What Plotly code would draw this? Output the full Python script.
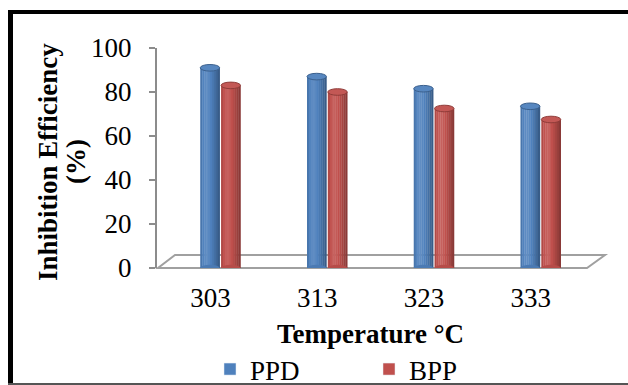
import plotly.graph_objects as go

categories = ["303", "313", "323", "333"]
ppd = [91, 87, 81.5, 73.5]
bpp = [83, 80, 72.5, 67.5]
series_names = ["PPD", "BPP"]
y_ticks = [0, 20, 40, 60, 80, 100]

FONT = "Liberation Serif"
W, H = 628, 385
L, R, T, B = 157, 44, 48, 117
PW, PH = W - L - R, H - T - B

def px(x):
    return (x - L) / PW

def py(y):
    return (H - B - y) / PH

def shade(hexcol, f):
    r, g, b = int(hexcol[1:3], 16), int(hexcol[3:5], 16), int(hexcol[5:7], 16)
    if f >= 0:
        r, g, b = [int(c + (255 - c) * f) for c in (r, g, b)]
    else:
        r, g, b = [int(c * (1 + f)) for c in (r, g, b)]
    return f"rgb({r},{g},{b})"

colors = ["#4F81BD", "#C0504D"]
offsets = [-0.095, 0.10]
width = 0.182
# lighting profile across the cylinder (left -> right)
profile = [-0.08, 0.02, 0.08, 0.10, 0.06, 0.0, -0.06, -0.13, -0.2, -0.28]

fig = go.Figure()
shapes = []
for s, vals in enumerate([ppd, bpp]):
    n = len(profile)
    sw = width / n
    for k, f in enumerate(profile):
        fig.add_trace(go.Bar(
            x=categories, y=vals, name=series_names[s],
            marker=dict(color=shade(colors[s], f), line=dict(width=0)),
            offset=offsets[s] + k * sw, width=sw * 1.15,
            showlegend=False, hoverinfo="skip",
        ))
    # legend entry
    fig.add_trace(go.Bar(
        x=[None], y=[None], name=series_names[s],
        marker=dict(color=colors[s]), showlegend=True,
    ))
    for i, v in enumerate(vals):
        shapes.append(dict(
            type="circle", xref="x", yref="y", layer="above",
            x0=i + offsets[s], x1=i + offsets[s] + width,
            y0=v - 1.5, y1=v + 1.5,
            fillcolor=shade(colors[s], 0.05),
            line=dict(color=shade(colors[s], -0.25), width=1),
        ))
        shapes.append(dict(
            type="circle", xref="x", yref="y", layer="above",
            x0=i + offsets[s], x1=i + offsets[s] + width,
            y0=-1.5, y1=1.5,
            fillcolor=shade(colors[s], -0.05),
            line=dict(width=0),
        ))

# 3D floor
shapes.insert(0, dict(
    type="path", xref="paper", yref="paper", layer="below",
    path=f"M {px(158)},{py(268)} L {px(587)},{py(268)} L {px(605)},{py(255)} L {px(175)},{py(255)} Z",
    line=dict(color="#A0A0A0", width=2), fillcolor="rgba(0,0,0,0)",
))
# outer frame
shapes += [
    dict(type="line", xref="paper", yref="paper", x0=px(8), x1=px(640), y0=py(12), y1=py(12),
         line=dict(color="black", width=4)),
    dict(type="line", xref="paper", yref="paper", x0=px(10.5), x1=px(10.5), y0=py(10), y1=py(390),
         line=dict(color="black", width=5)),
    dict(type="line", xref="paper", yref="paper", x0=px(8), x1=px(640), y0=py(384), y1=py(384),
         line=dict(color="#555555", width=2)),
]

fig.update_layout(
    width=W, height=H,
    margin=dict(l=L, r=R, t=T, b=B, autoexpand=False),
    paper_bgcolor="white", plot_bgcolor="white",
    barmode="overlay",
    font=dict(family=FONT, size=27, color="black"),
    shapes=shapes,
    showlegend=True,
    legend=dict(orientation="h", x=px(210), y=py(345), xanchor="left", yanchor="top",
                entrywidth=114, entrywidthmode="pixels", itemwidth=30,
                tracegroupgap=0, font=dict(family=FONT, size=27), bgcolor="rgba(0,0,0,0)"),
    xaxis=dict(type="category", range=[-0.5, 3.5], showline=False, showgrid=False,
               zeroline=False, ticks="", ticklabelstandoff=11,
               tickfont=dict(family=FONT, size=27),
               title=dict(text="<b>Temperature °C</b>", standoff=12,
                          font=dict(family=FONT, size=27))),
    yaxis=dict(range=[0, 100], tickvals=y_ticks, showline=True, linecolor="#8C8C8C", linewidth=2,
               ticks="outside", ticklen=6, tickcolor="#8C8C8C", tickwidth=2,
               showgrid=False, zeroline=False, ticklabelstandoff=12,
               tickfont=dict(family=FONT, size=27)),
    annotations=[
        dict(text="<b>Inhibition Efficiency</b>", textangle=-90, xref="paper", yref="paper",
             x=px(48), y=py(162), xanchor="center", yanchor="middle", showarrow=False,
             font=dict(family=FONT, size=27)),
        dict(text="<b>(%)</b>", textangle=-90, xref="paper", yref="paper",
             x=px(76), y=py(162), xanchor="center", yanchor="middle", showarrow=False,
             font=dict(family=FONT, size=27)),
    ],
)

fig.write_html("out.html")
